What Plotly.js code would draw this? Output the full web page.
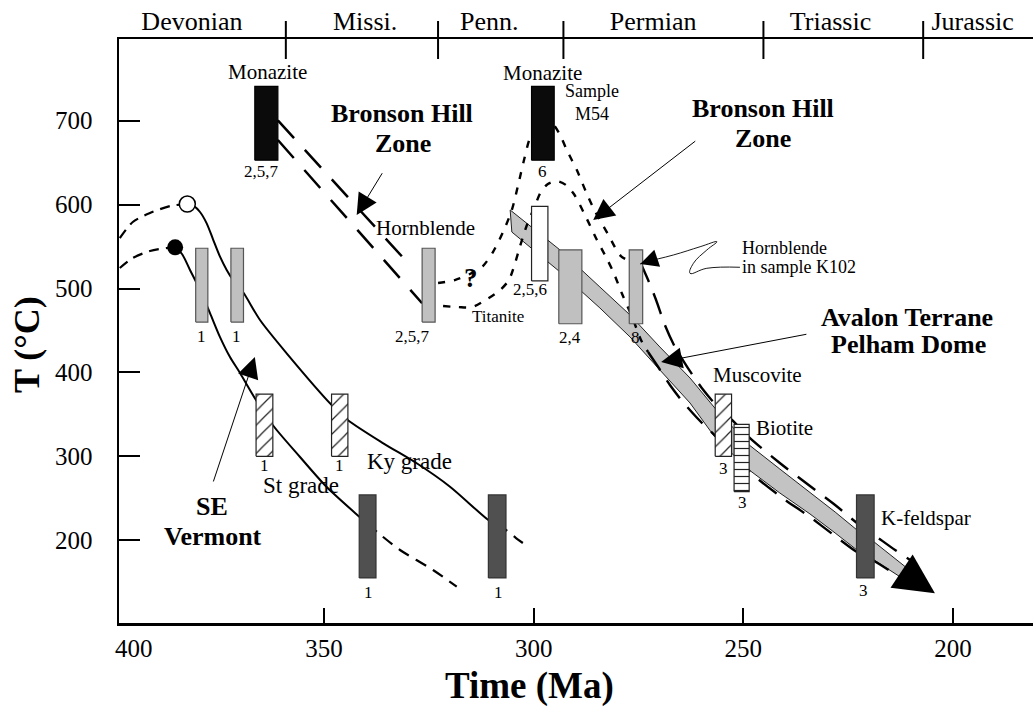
<!DOCTYPE html>
<html><head><meta charset="utf-8">
<script src="https://cdn.plot.ly/plotly-3.0.1.min.js"></script>
<style>html,body{margin:0;padding:0;background:#fff;overflow:hidden}#chart{width:1033px;height:707px}</style>
</head><body><div id="chart"></div>
<script>
// ---------- data ----------
const periodNames   = ['Devonian','Missi.','Penn.','Permian','Triassic','Jurassic'];
const periodCenters = [381.5, 340.2, 310.6, 271.5, 229.2, 195.3];
const periodBounds  = [359.1, 322.8, 292.9, 245.2, 207.1];
const xTicks = [350, 300, 250, 200];
const yTicks = [200, 300, 400, 500, 600, 700];

// bars: [older Ma, younger Ma, T low, T high]
const barsBlack     = [[366.5, 361.0, 653, 741], [300.5, 295.1, 653, 741]];
const barsLightGrey = [[380.6, 377.7, 460, 548], [372.2, 369.2, 460, 548], [326.6, 323.5, 460, 548],
                       [294.0, 288.5, 458, 546], [277.2, 274.0, 458, 546]];
const barsWhite     = [[300.5, 296.6, 509, 598]];
const barsHatched   = [[366.2, 362.2, 300, 374], [348.2, 344.3, 300, 374], [256.7, 252.8, 300, 374]];
const barsLined     = [[252.2, 248.6, 258, 338]];
const barsDark      = [[341.6, 337.6, 155, 254], [310.8, 306.6, 155, 254], [223.0, 218.8, 155, 254]];

// SE Vermont paths
const vtLowPreMa  = [398.7, 395.6, 391.5, 387.4, 385.5];
const vtLowPreT   = [524.4, 536.4, 544.7, 548.3, 549.1];
const vtUpPreMa   = [398.7, 395.6, 391.5, 386.7, 382.6];
const vtUpPreT    = [560.2, 579.3, 590.0, 598.3, 600.7];
const stMa = [385.54, 383.87, 381.96, 379.57, 377.19, 374.80, 372.42, 370.03, 366.22, 362.24, 355.72, 349.35, 341.58, 339.60];
const stT  = [549.1, 541.1, 522.1, 498.3, 470.7, 442.1, 418.3, 399.3, 367.1, 337.3, 299.2, 263.4, 228.0, 219.3];
const stDashMa = [339.60, 337.43, 331.87, 324.00, 318.35];
const stDashT  = [219.3, 210.1, 188.3, 164.5, 144.6];
const kyMa = [382.60, 381.00, 379.57, 377.98, 376.40, 374.80, 373.21, 371.70, 369.32, 365.26, 358.90, 348.16, 344.35, 335.86, 327.89, 319.95, 310.82, 308.74];
const kyT  = [600.7, 598.3, 591.2, 577.7, 557.8, 537.9, 522.1, 510.1, 495.8, 462.5, 422.8, 361.1, 343.3, 315.5, 291.7, 263.8, 224.1, 218.1];
const kyDashMa = [308.74, 306.59, 304.21, 301.58];
const kyDashT  = [218.1, 212.2, 202.6, 193.1];
const peakFilled = [385.5, 549.1];
const peakOpen   = [382.6, 600.7];

// Bronson Hill Zone (left pair)
const bhUpMa = [361.0, 329.9],  bhUpT = [700.5, 530.0];
const bhLoMa = [361.0, 326.6],  bhLoT = [677.0, 482.4];
// Bronson Hill Zone (right, dotted peaks)
const outerMa = [322.8, 318.8, 315.2, 312.1, 309.7, 307.3, 305.2, 303.7, 302.3, 300.9, 299.2, 297.3, 295.4, 293.7, 292.1, 289.7, 287.5, 285.4, 282.3, 279.2, 276.5];
const outerT  = [506.6, 510.1, 517.3, 526.8, 543.5, 567.3, 593.6, 623.4, 653.2, 679.4, 696.1, 702.0, 696.1, 683.0, 665.1, 641.2, 615.0, 592.4, 565.0, 538.7, 531.6];
const innerMa = [321.6, 318.0, 314.7, 311.1, 308.0, 305.9, 304.5, 303.3, 301.6, 299.7, 298.3, 296.6, 294.4, 292.3, 290.4, 287.3, 284.9, 282.5, 280.8, 278.9, 276.5, 274.4, 272.7];
const innerT  = [479.1, 477.9, 477.9, 487.5, 498.2, 510.1, 529.2, 549.5, 575.7, 598.3, 615.0, 624.6, 628.1, 623.4, 612.6, 582.8, 557.8, 535.2, 517.3, 493.4, 466.0, 438.6, 424.3];
const l1Ma = [274.6, 272.7, 270.8, 268.7, 266.3, 263.2, 259.9, 256.5, 252.7, 248.4, 241.3, 234.1, 228.1, 222.9, 218.8, 213.8, 209.1];
const l1T  = [531.6, 510.1, 486.3, 456.5, 430.3, 405.2, 381.4, 361.1, 343.3, 321.8, 292.0, 264.6, 242.0, 220.5, 206.2, 188.3, 172.8];
const l2Ma = [272.7, 270.3, 267.5, 264.4, 261.0, 257.9, 255.1, 251.7, 248.4, 241.3, 234.1, 228.1, 222.9, 218.8, 213.8, 211.4];
const l2T  = [424.3, 406.4, 385.0, 364.7, 345.6, 330.2, 317.0, 301.5, 281.3, 252.7, 227.6, 205.0, 185.9, 175.2, 159.7, 152.6];

// Avalon Terrane / Pelham Dome band
const bandTopMa = [305.6, 293.7, 284.2, 277.0, 269.9, 262.7, 256.8, 248.6, 241.3, 234.1, 228.1, 222.9, 218.8, 211.0];
const bandTopT  = [593.6, 545.9, 501.8, 468.4, 430.3, 393.3, 357.6, 313.5, 284.9, 257.4, 233.6, 212.2, 197.9, 166.9];
const bandBotMa = [305.2, 293.7, 284.2, 277.0, 269.9, 262.7, 256.8, 248.6, 241.3, 234.1, 228.1, 222.9, 218.8, 212.2];
const bandBotT  = [567.3, 519.7, 476.8, 442.2, 402.9, 363.5, 323.0, 283.7, 256.3, 231.3, 208.6, 188.3, 176.4, 155.0];
const bandArrow = [211.6, 160.9, 204.3, 136.7];   // [tail Ma, tail T, tip Ma, tip T]

// pointer arrows: [tail Ma, tail T, tip Ma, tip T]
const pointers = [[335.9, 639.2, 342.2, 587.6], [261.1, 677.0, 285.8, 581.6],
                  [234.6, 445.8, 269.6, 412.4], [376.5, 268.2, 366.5, 418.4]];
const k102Ma = [250.8, 258.7, 262.7, 261.9, 258.7, 256.3, 260.3, 266.7, 273.0, 274.6];
const k102T  = [525.3, 524.1, 518.1, 530.0, 545.9, 555.8, 549.8, 539.9, 531.9, 529.2];

// text labels: [text, Ma, T, size, bold]
const labels = [
  ['Monazite', 363.4, 758.0, 21, 0], ['2,5,7', 365.0, 639.4, 17, 0],
  ['Bronson Hill', 331.3, 709.2, 26, 1], ['Zone', 331.2, 673.4, 26, 1],
  ['Hornblende', 325.9, 572.1, 21, 0], ['?', 315.0, 512.5, 27, 1],
  ['2,5,7', 328.9, 442.8, 17, 0], ['1', 379.1, 442.8, 17, 0], ['1', 370.8, 442.8, 17, 0],
  ['Titanite', 308.4, 466.4, 17, 0], ['2,5,6', 300.9, 499.4, 17, 0], ['2,4', 291.3, 441.6, 17, 0],
  ['8', 275.6, 441.6, 17, 0], ['6', 297.8, 640.0, 17, 0], ['Monazite', 297.9, 756.9, 21, 0],
  ['Sample', 286.0, 735.4, 18, 0], ['M54', 286.0, 708.0, 18, 0],
  ['Bronson Hill', 245.4, 715.1, 26, 1], ['Zone', 245.3, 679.4, 26, 1],
  ['Avalon Terrane', 211.0, 466.0, 26, 1], ['Pelham Dome', 210.5, 432.7, 26, 1],
  ['Muscovite', 246.7, 397.5, 21, 0], ['Biotite', 240.1, 333.4, 21, 0],
  ['3', 254.8, 284.9, 17, 0], ['3', 250.3, 244.9, 17, 0],
  ['K-feldspar', 206.4, 225.9, 21, 0], ['3', 221.3, 139.5, 17, 0],
  ['1', 339.5, 137.7, 17, 0], ['1', 308.3, 137.7, 17, 0],
  ['1', 364.3, 289.0, 17, 0], ['1', 346.4, 289.0, 17, 0],
  ['St grade', 355.5, 265.5, 23, 0], ['Ky grade', 329.5, 293.6, 23, 0],
  ['SE', 376.6, 239.9, 26, 1], ['Vermont', 376.4, 204.2, 26, 1]
];
const k102Text = [['Hornblende', 250.8, 548.3], ['in sample K102', 250.8, 525.6]];

// ---------- build ----------
const FONT = "'Liberation Serif', 'Times New Roman', Times, serif";
const XR = [398.89, 180.91], YR = [101.3, 797.4];
const traces = [];
const base = {type: 'scatter', hoverinfo: 'skip', showlegend: false};
function line(x, y, width, dash, shape) {
  traces.push(Object.assign({}, base, {x: x, y: y, mode: 'lines',
    line: {color: '#000', width: width, dash: dash || 'solid', shape: shape || 'spline', smoothing: 0.8}}));
}
function rect(b) { return {x: [b[0], b[1], b[1], b[0], b[0]], y: [b[2], b[2], b[3], b[3], b[2]]}; }
function bars(list, fill, lineColor, pattern) {
  list.forEach(b => {
    const r = rect(b);
    const t = Object.assign({}, base, {x: r.x, y: r.y, mode: 'lines', fill: 'toself',
      fillcolor: fill, line: {color: lineColor, width: 1.2}});
    if (pattern) t.fillpattern = pattern;
    traces.push(t);
  });
}

// band
traces.push(Object.assign({}, base, {
  x: bandTopMa.concat(bandBotMa.slice().reverse(), [bandTopMa[0]]),
  y: bandTopT.concat(bandBotT.slice().reverse(), [bandTopT[0]]),
  mode: 'lines', fill: 'toself', fillcolor: '#c3c3c3', line: {color: '#222', width: 1}
}));

// curves
line(vtLowPreMa, vtLowPreT, 2.2, '10px,7px');
line(vtUpPreMa, vtUpPreT, 2.2, '10px,7px');
line(stMa, stT, 2);
line(stDashMa, stDashT, 2.2, '12px,8px');
line(kyMa, kyT, 2);
line(kyDashMa, kyDashT, 2.2, '12px,8px');
line(bhUpMa, bhUpT, 2.5, '24px,16px', 'linear');
line(bhLoMa, bhLoT, 2.5, '24px,16px', 'linear');
line(outerMa, outerT, 2.4, '7px,9px');
line(innerMa, innerT, 2.4, '7px,9px');
line(l1Ma, l1T, 2.4, '22px,12px');
line(l2Ma, l2T, 2.4, '22px,12px');

// bars
bars(barsLightGrey, '#c0c0c0', '#555');
bars(barsWhite, '#ffffff', '#222');
bars(barsBlack, '#0b0b0b', '#000');
bars(barsDark, '#505050', '#333');
bars(barsHatched, '#ffffff', '#222', {shape: '/', size: 10, solidity: 0.12, fgcolor: '#222', bgcolor: '#fff'});
bars(barsLined, '#ffffff', '#222', {shape: '-', size: 7, solidity: 0.17, fgcolor: '#222', bgcolor: '#fff'});

// peak circles
traces.push(Object.assign({}, base, {x: [peakFilled[0]], y: [peakFilled[1]], mode: 'markers',
  marker: {size: 16, color: '#000', line: {width: 0}}}));
traces.push(Object.assign({}, base, {x: [peakOpen[0]], y: [peakOpen[1]], mode: 'markers',
  marker: {size: 16, color: '#fff', line: {width: 1.5, color: '#000'}}}));

// K102 squiggle (line part)
traces.push(Object.assign({}, base, {x: k102Ma, y: k102T, mode: 'lines',
  line: {color: '#000', width: 0.9, shape: 'spline', smoothing: 1.2}}));

// dummy trace for top period axis
traces.push(Object.assign({}, base, {x: periodCenters, y: periodCenters.map(() => null),
  xaxis: 'x2', mode: 'markers', marker: {opacity: 0}}));

const annotations = labels.map(l => ({
  x: l[1], y: l[2], xref: 'x', yref: 'y', showarrow: false, xanchor: 'center', yanchor: 'middle',
  text: l[4] ? '<b>' + l[0] + '</b>' : l[0],
  font: {family: FONT, size: l[3], color: '#000'}
}));
k102Text.forEach(t => annotations.push({x: t[1], y: t[2], xref: 'x', yref: 'y', showarrow: false,
  xanchor: 'left', yanchor: 'middle', text: t[0], font: {family: FONT, size: 18, color: '#000'}}));
annotations.push({x: 395.4, y: -0.0445, xref: 'x', yref: 'paper', showarrow: false, text: '400',
  xanchor: 'center', yanchor: 'middle', font: {family: FONT, size: 25, color: '#000'}});
annotations.push({x: 300.9, y: -0.1079, xref: 'x', yref: 'paper', showarrow: false,
  xanchor: 'center', yanchor: 'middle',
  text: '<b>Time (Ma)</b>', font: {family: FONT, size: 37, color: '#000'}});
annotations.push({x: -0.1, y: 0.477, xref: 'paper', yref: 'paper', showarrow: false, textangle: -90,
  xanchor: 'center', yanchor: 'middle',
  text: '<b>T (°C)</b>', font: {family: FONT, size: 36, color: '#000'}});

// arrows (annotation arrows, tail -> tip in data coordinates)
function arrow(tailX, tailY, tipX, tipY, size, width) {
  annotations.push({x: tipX, y: tipY, ax: tailX, ay: tailY, xref: 'x', yref: 'y', axref: 'x', ayref: 'y',
    text: '', showarrow: true, arrowhead: 2, arrowsize: size, arrowwidth: width, arrowcolor: '#000',
    standoff: 0});
}
pointers.forEach(p => arrow(p[0], p[1], p[2], p[3], 4.2, 1));
arrow(k102Ma[k102Ma.length - 2], k102T[k102T.length - 2], k102Ma[k102Ma.length - 1], k102T[k102T.length - 1], 4, 0.9);
arrow(bandArrow[0], bandArrow[1], bandArrow[2], bandArrow[3], 8, 1);

const shapes = periodBounds.map(b => ({type: 'line', xref: 'x', yref: 'paper', x0: b, x1: b,
  y0: 0.9658, y1: 1.0308, line: {color: '#000', width: 2}}));

const layout = {
  width: 1033, height: 707,
  margin: {l: 119, r: 0, t: 39, b: 84, pad: 0},
  paper_bgcolor: '#fff', plot_bgcolor: '#fff',
  font: {family: FONT, color: '#000'},
  showlegend: false,
  xaxis: {range: XR, tickvals: xTicks, ticks: 'inside', ticklen: 15, tickwidth: 2, tickcolor: '#000',
          showline: true, linewidth: 2.5, linecolor: '#000', showgrid: false, zeroline: false,
          tickfont: {family: FONT, size: 25, color: '#000'}, ticklabelstandoff: 1},
  xaxis2: {range: XR, overlaying: 'x', side: 'top', tickvals: periodCenters, ticktext: periodNames,
           ticks: '', showline: true, linewidth: 2.5, linecolor: '#000', showgrid: false, zeroline: false,
           tickfont: {family: FONT, size: 26, color: '#000'}, ticklabelstandoff: -4},
  yaxis: {range: YR, tickvals: yTicks, ticks: 'inside', ticklen: 21, tickwidth: 2, tickcolor: '#000',
          showline: true, linewidth: 2.5, linecolor: '#000', showgrid: false, zeroline: false,
          tickfont: {family: FONT, size: 25, color: '#000'}, ticklabelstandoff: 19},
  annotations: annotations,
  shapes: shapes
};
Plotly.newPlot('chart', traces, layout, {staticPlot: true, displayModeBar: false});
</script>
</body></html>
